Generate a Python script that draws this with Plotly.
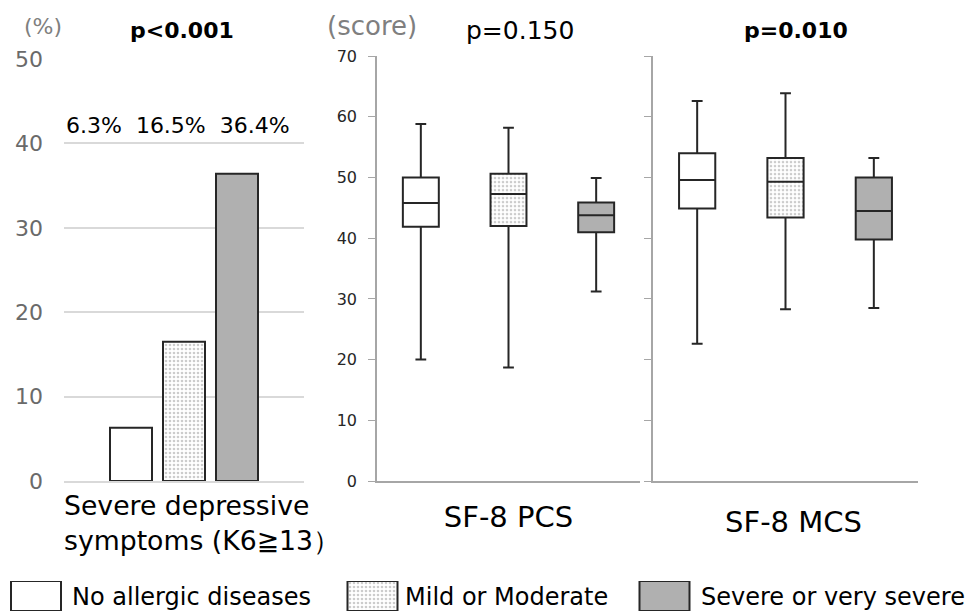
import plotly.graph_objects as go

# ---------------- data ----------------
groups = ["No allergic diseases", "Mild or Moderate", "Severe or very severe"]
bar_category = ["Severe depressive<br>symptoms (K6≧13）"]
depress_pct = [6.3, 16.5, 36.4]
p_depress = "p<0.001"

pcs_label = "SF-8 PCS"
pcs_low = [20.0, 18.7, 31.2]
pcs_q1 = [41.9, 42.0, 41.0]
pcs_med = [45.8, 47.3, 43.8]
pcs_q3 = [50.0, 50.6, 45.9]
pcs_high = [58.8, 58.2, 49.9]
p_pcs = "p=0.150"

mcs_label = "SF-8 MCS"
mcs_low = [22.6, 28.3, 28.5]
mcs_q1 = [44.9, 43.4, 39.8]
mcs_med = [49.6, 49.3, 44.5]
mcs_q3 = [54.0, 53.2, 50.0]
mcs_high = [62.6, 63.9, 53.2]
p_mcs = "p=0.010"

pct_ticks = [0, 10, 20, 30, 40, 50]
score_ticks = [0, 10, 20, 30, 40, 50, 60, 70]

# ---------------- styles ----------------
FONT = "DejaVu Sans"
W, H = 965, 612
EDGE = "#262626"
GRAY_FILL = "#b0b0b0"
fills = ["white", "white", GRAY_FILL]
patterns = [None, dict(shape=".", fgcolor="#9a9a9a", bgcolor="white", size=4, solidity=0.35), None]


def px(x):
    return x / W


def py(y):
    return (H - y) / H


fig = go.Figure()

# ---- left panel: bars ----
bar_w = 42 / 240
slot = 53 / 240
for i, g in enumerate(groups):
    marker = dict(color=fills[i], line=dict(color=EDGE, width=2))
    if patterns[i]:
        marker["pattern"] = patterns[i]
    fig.add_trace(go.Bar(
        x=bar_category, y=[depress_pct[i]], name=g, marker=marker,
        width=bar_w, offset=(i - 1) * slot - bar_w / 2,
        xaxis="x", yaxis="y", showlegend=False, hoverinfo="skip"))

# ---- middle/right panels: boxes (x = group index) ----
box_w = 0.41
for (lo, q1, med, q3, hi, xa, ya) in [
    (pcs_low, pcs_q1, pcs_med, pcs_q3, pcs_high, "x2", "y2"),
    (mcs_low, mcs_q1, mcs_med, mcs_q3, mcs_high, "x3", "y3"),
]:
    # dotted backdrop for the middle group's box (box traces cannot take patterns)
    fig.add_trace(go.Bar(
        x=[1], y=[q3[1] - q1[1]], base=[q1[1]], width=box_w,
        marker=dict(color="white", pattern=patterns[1], line=dict(width=0)),
        xaxis=xa, yaxis=ya, showlegend=False, hoverinfo="skip"))
    for i, g in enumerate(groups):
        fc = "rgba(0,0,0,0)" if i == 1 else fills[i]
        fig.add_trace(go.Box(
            x=[i], q1=[q1[i]], median=[med[i]], q3=[q3[i]],
            lowerfence=[lo[i]], upperfence=[hi[i]], width=box_w,
            name=g, fillcolor=fc, line=dict(color=EDGE, width=2),
            whiskerwidth=0.3, boxpoints=False,
            xaxis=xa, yaxis=ya, showlegend=False, hoverinfo="skip"))

# ---- legend swatches on a hidden axis ----
sw_centers = [36, 372.5, 664.5]
for i, g in enumerate(groups):
    marker = dict(color=fills[i], line=dict(color=EDGE, width=2))
    if patterns[i]:
        marker["pattern"] = patterns[i]
    fig.add_trace(go.Bar(
        x=[sw_centers[i]], y=[1], base=[0], width=50, marker=marker,
        xaxis="x4", yaxis="y4", showlegend=False, hoverinfo="skip"))

ann = []
def txt(x, y, s, size, color="#000000", bold=False, xanchor="center", align="center"):
    ann.append(dict(x=px(x), y=py(y), xref="paper", yref="paper", text=s,
                    showarrow=False, xanchor=xanchor, yanchor="middle", align=align,
                    font=dict(family=FONT, size=size, color=color,
                              weight="bold" if bold else "normal")))

txt(43, 27, "(%)", 22, "#7f7f7f")
txt(182, 30, p_depress, 22, bold=True)
txt(372, 26, "(score)", 26, "#7f7f7f")
txt(520, 30, p_pcs, 25)
txt(796, 30, p_mcs, 22, bold=True)
txt(178, 125, "  ".join(f"{v}%" for v in depress_pct), 22)
# category label of the bar panel (left aligned, two lines)
txt(62, 523, bar_category[0], 26.7, xanchor="left", align="left")
legend_x = [70, 403, 699]
for i, g in enumerate(groups):
    txt(legend_x[i], 597, g, 24, xanchor="left")

AX = "#a6a6a6"
box_x = dict(range=[-0.5, 2.5], tickvals=[1], showline=True, linecolor=AX, linewidth=1.5,
             ticks="", showgrid=False, zeroline=False,
             tickfont=dict(size=29, color="#000000"), fixedrange=True)
fig.update_layout(
    width=W, height=H, margin=dict(l=0, r=0, t=0, b=0, pad=0, autoexpand=False),
    paper_bgcolor="white", plot_bgcolor="white",
    barmode="overlay",
    font=dict(family=FONT, color="#000000"),
    annotations=ann,
    xaxis=dict(domain=[px(64), px(304)], range=[-0.5, 0.5], showline=True,
               linecolor="#d9d9d9", linewidth=2, ticks="", showgrid=False,
               showticklabels=False, fixedrange=True),
    yaxis=dict(domain=[py(481), py(59)], range=[0, 50], tickvals=pct_ticks,
               showline=False, showgrid=True, gridcolor="#d9d9d9", gridwidth=1.5,
               zeroline=False, ticks="", tickfont=dict(size=22, color="#6a6a6a"),
               ticklabelstandoff=20, fixedrange=True),
    xaxis2=dict(domain=[px(377), px(640)], ticktext=[pcs_label], anchor="y2",
                ticklabelstandoff=9, **box_x),
    yaxis2=dict(domain=[py(481), py(56.1)], range=[0, 70], tickvals=score_ticks,
                showline=True, linecolor=AX, linewidth=1.5, ticks="outside", ticklen=7,
                tickcolor=AX, showgrid=False, zeroline=False,
                tickfont=dict(size=16, color="#262626"), ticklabelstandoff=8,
                anchor="x2", fixedrange=True),
    xaxis3=dict(domain=[px(653), px(918)], ticktext=[mcs_label], anchor="y3",
                ticklabelstandoff=14, ticklabelshift=8, **box_x),
    yaxis3=dict(domain=[py(481), py(56.1)], range=[0, 70], tickvals=score_ticks,
                showline=True, linecolor=AX, linewidth=1.5, ticks="outside", ticklen=7,
                tickcolor=AX, showgrid=False, zeroline=False, showticklabels=False,
                anchor="x3", fixedrange=True),
    xaxis4=dict(domain=[0, 1], range=[0, W], visible=False, anchor="y4", fixedrange=True),
    yaxis4=dict(domain=[py(611), py(581)], range=[0, 1], visible=False, anchor="x4",
                fixedrange=True),
)

fig.write_html("out.html", config={"displayModeBar": False},
               post_script="document.body.style.margin='0';document.body.style.overflow='hidden';")
